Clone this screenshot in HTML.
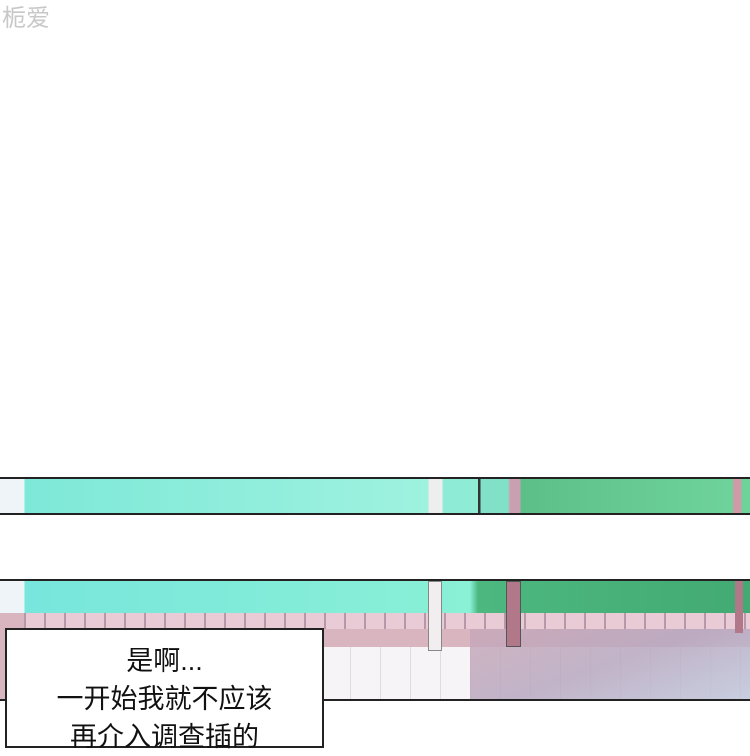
<html><head><style>
body{margin:0;width:750px;height:729px;overflow:hidden;background:#fff;position:relative;font-family:"Liberation Sans","Noto Sans CJK SC",sans-serif}
div{position:absolute;box-sizing:border-box}
</style></head><body>
<div style="left:2px;top:4px;font-size:24px;color:#c8c8c8;line-height:30px">栀爱</div>
<div style="left:0;top:477px;width:750px;height:38px;border-top:2px solid #222;border-bottom:2px solid #222;background:linear-gradient(90deg,#eef4f8 0,#eef4f8 24px,#7ee8d8 25px,#9ef2de 428px,#eee 429px,#eee 442px,#8eecd6 443px,#8eecd6 478px,#333 478px,#333 480px,#80e0c8 481px,#80e0c8 508px,#caa0b0 510px,#caa0b0 520px,#5cbf88 521px,#6ed39a 732px,#d09aa8 734px,#d09aa8 741px,#6ed39a 742px)"></div>
<div style="left:0;top:579px;width:750px;height:122px;border-top:2px solid #222;border-bottom:2px solid #222;overflow:hidden;background:#d9b5c0">
 <div style="left:0;top:0;width:750px;height:32px;background:linear-gradient(90deg,#eef4f8 0,#eef4f8 24px,#78e6dc 25px,#8af0d6 470px,#4cb880 478px,#42aa72 750px)"></div>
 <div style="left:24px;top:32px;width:726px;height:16px;background:repeating-linear-gradient(90deg,#b898a8 0,#b898a8 2px,#e8cbd4 2px,#e8cbd4 20px)"></div>
 <div style="left:320px;top:66px;width:430px;height:54px;background:repeating-linear-gradient(90deg,#ddd 0,#ddd 1px,#f6f4f6 1px,#f6f4f6 30px);"></div>
 <div style="left:470px;top:48px;width:280px;height:72px;background:linear-gradient(160deg,#c8a8b8 0%,#b8a8c0 50%,#c0c8dc 100%);opacity:.85"></div>
 <div style="left:428px;top:0;width:14px;height:70px;background:#f2eef0;border:1px solid #888"></div>
 <div style="left:506px;top:0;width:15px;height:66px;background:#b07888;border:1px solid #555"></div>
 <div style="left:735px;top:0;width:8px;height:52px;background:#b07888"></div>
</div>
<div style="left:5px;top:628px;width:319px;height:120px;background:#fff;border:2px solid #222;text-align:center;font-size:27px;line-height:38px;color:#111;padding-top:12px">
 <div style="position:static">是啊...<br>一开始我就不应该<br>再介入调查插的</div>
</div>
</body></html>
